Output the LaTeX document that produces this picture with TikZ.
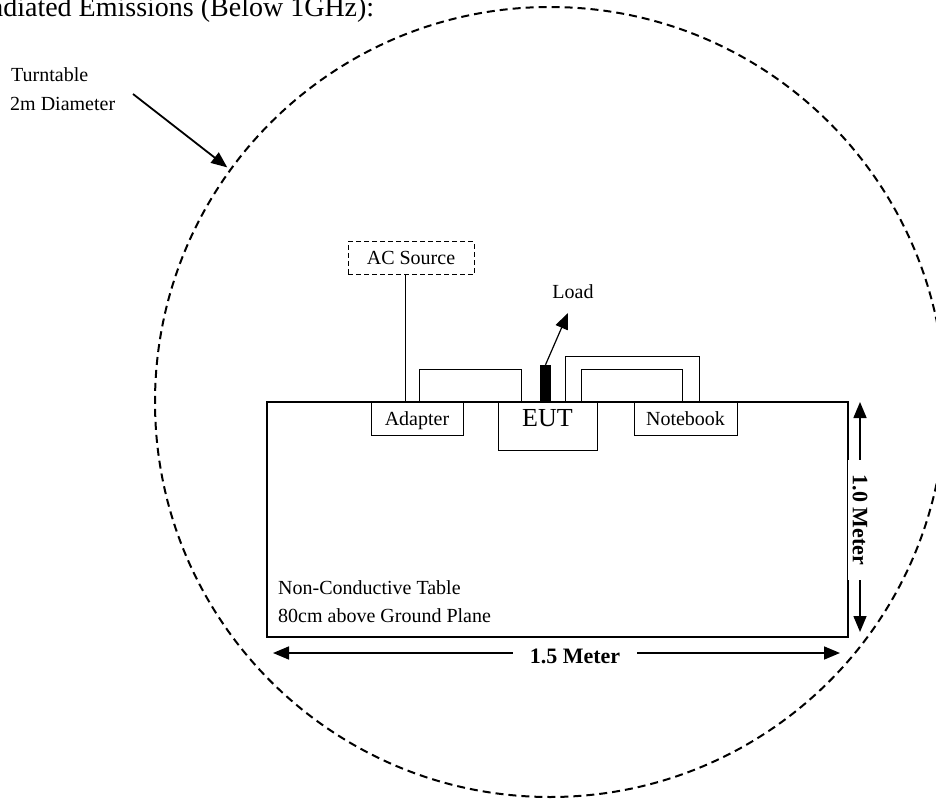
\documentclass[tikz,border=0pt]{standalone}
\usepackage{fontspec}
\setmainfont{Liberation Serif}
\usetikzlibrary{arrows.meta}
\begin{document}
\begin{tikzpicture}[x=1pt,y=-1pt,
  box/.style={draw, line width=1pt, rectangle, inner sep=0pt, font=\fontsize{20}{24}\selectfont, text height=23pt, text depth=10pt},
  dimlab/.style={fill=white, font=\bfseries\fontsize{22}{26}\selectfont},
  bigarrow/.style={-{Triangle[length=16pt,width=13pt]}},
  dimarrow/.style={{Triangle[length=16pt,width=13pt]}-{Triangle[length=16pt,width=13pt]}, line width=1.6pt},
  cable/.style={line width=1pt},
  txt/.style={font=\fontsize{20}{24}\selectfont, inner sep=0pt},
]
\useasboundingbox (0,0) rectangle (936,799);
\fill[white] (0,0) rectangle (936,799);
\clip (0,0) rectangle (936,799);

% title
\node[anchor=base west, inner sep=0pt, font=\fontsize{28}{32}\selectfont] (title) at (-28,17) {Radiated Emissions (Below 1GHz):};

% turntable
\node[circle, draw, line width=2pt, dash pattern=on 8pt off 5pt, minimum size=790pt, inner sep=0pt] (turntable) at (550,402) {};
\node[txt, anchor=base west] (tt1) at (11,82) {Turntable};
\node[txt, anchor=base west] (tt2) at (10,111) {2m Diameter};
\coordinate (tstart) at (133,94);
\draw[bigarrow, line width=1.8pt, shorten >=3pt] (tstart) -- (turntable.144);

% table
\node[draw, line width=2pt, minimum width=581pt, minimum height=235pt, inner sep=0pt] (table) at (557.5,519.5) {};
\node[txt, anchor=base west] (nc1) at (278,594) {Non-Conductive Table};
\node[txt, anchor=base west] (nc2) at (278,622) {80cm above Ground Plane};

% equipment
\node[box, minimum width=126pt, dash pattern=on 5pt off 3pt] (ac) at (411,258.5) {AC Source};
\node[box, minimum width=92pt] (adapter) at (417,418.5) {Adapter};
\node[box, minimum width=99pt, text height=24pt, text depth=24pt, font=\fontsize{26}{30}\selectfont] (eut) at (547.5,426) {EUT};
\node[box, minimum width=103pt] (notebook) at (685.5,418.5) {Notebook};

% cables
\draw[cable] ([xshift=-6pt]ac.south) -- ([xshift=-6pt]ac.south |- adapter.north);
\draw[cable] ([xshift=2pt]adapter.north) -- ++(0,-32) -| ([xshift=-26.5pt]eut.north);
\draw[cable] ([xshift=17.5pt]eut.north) -- ++(0,-45) -| ([xshift=13.5pt]notebook.north);
\draw[cable] ([xshift=33.5pt]eut.north) -- ++(0,-32) -| ([xshift=-3.5pt]notebook.north);

% load
\node[fill=black, minimum width=11pt, minimum height=37pt, inner sep=0pt] (load) at (545.5,383.5) {};
\coordinate (loadtip) at (568,313);
\draw[bigarrow, line width=1.2pt] (load.north) -- (loadtip);
\node[txt] (loadlbl) at (573,292) {Load};

% dimensions
\coordinate (hl) at (273,653);
\coordinate (hr) at (840,653);
\draw[dimarrow] (hl) -- (hr);
\node[dimlab, inner xsep=17pt, inner ysep=9pt] (hlab) at (575,656) {1.5 Meter};

\coordinate (vt) at (860,402);
\coordinate (vb) at (860,632);
\draw[dimarrow] (vt) -- (vb);
\node[dimlab, rotate=-90, inner xsep=15pt, inner ysep=4.5pt] (vlab) at (860,520) {1.0 Meter};
\end{tikzpicture}
\end{document}
